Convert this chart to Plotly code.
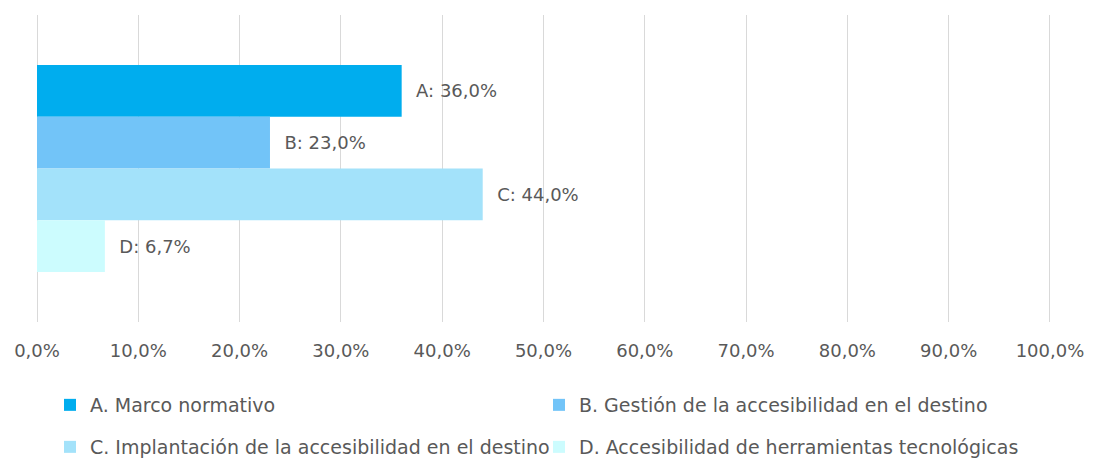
import plotly.graph_objects as go

# data
series_names = [
    "A. Marco normativo",
    "B. Gestión de la accesibilidad en el destino",
    "C. Implantación de la accesibilidad en el destino",
    "D. Accesibilidad de herramientas tecnológicas",
]
series_letters = ["A", "B", "C", "D"]
series_values = [0.360, 0.230, 0.440, 0.067]
category = [""]
x_ticks = [0, 0.1, 0.2, 0.3, 0.4, 0.5, 0.6, 0.7, 0.8, 0.9, 1.0]

colors = ["#00ADEE", "#72C4F8", "#A3E2FA", "#CCFCFE"]
legend_ids = ["legend", "legend", "legend2", "legend2"]
FONT = "DejaVu Sans"
GRAY = "#595959"

# page body adds an 8px margin, so the figure is sized to the visible area
W, H = 1086, 451

fig = go.Figure()

for name, letter, val, col, lg in zip(series_names, series_letters, series_values, colors, legend_ids):
    fig.add_trace(go.Bar(
        y=category,
        x=[val],
        name=name,
        orientation="h",
        marker=dict(color=col, line=dict(width=0)),
        texttemplate="\u00a0\u00a0" + letter + ": %{x:.1%}",
        textposition="outside",
        cliponaxis=False,
        textfont=dict(family=FONT, size=18, color=GRAY),
        legend=lg,
    ))

legend_style = dict(
    orientation="h",
    xref="container", yref="container",
    xanchor="left", yanchor="middle",
    x=42 / W,
    font=dict(family=FONT, size=19, color=GRAY),
    entrywidth=444,
    bgcolor="rgba(0,0,0,0)",
    itemclick=False,
)

fig.update_layout(
    width=W,
    height=H,
    barmode="group",
    bargap=0.326,
    bargroupgap=0,
    separators=",.",
    plot_bgcolor="white",
    paper_bgcolor="white",
    margin=dict(l=29, r=42, t=7, b=137),
    xaxis=dict(
        range=[0, 1.002],  # small pad so the 100% gridline is drawn
        tickvals=x_ticks,
        tickformat=".1%",
        showgrid=True,
        gridcolor="#D9D9D9",
        gridwidth=1,
        zeroline=True,
        zerolinecolor="#D9D9D9",
        zerolinewidth=1,
        showline=False,
        ticks="outside",
        ticklen=12,
        tickcolor="rgba(0,0,0,0)",
        tickfont=dict(family=FONT, size=18, color=GRAY),
    ),
    yaxis=dict(
        type="category",
        range=[0.5, -0.5],
        showticklabels=False,
        showgrid=False,
        zeroline=False,
    ),
    legend=dict(legend_style, y=1 - 397 / H),
    legend2=dict(legend_style, y=1 - 439 / H),
    showlegend=True,
)

fig.write_html("out.html")
